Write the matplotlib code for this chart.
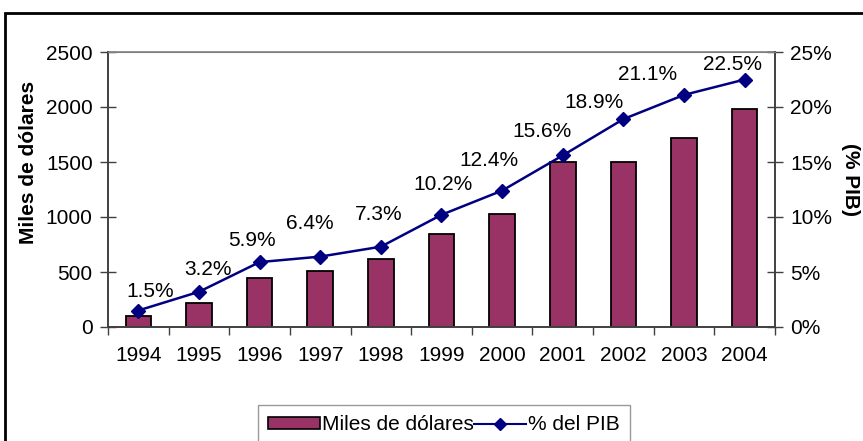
import matplotlib
matplotlib.use("Agg")
import matplotlib.pyplot as plt
from matplotlib.patches import Rectangle
from matplotlib.lines import Line2D
from matplotlib.ticker import FuncFormatter, FixedLocator
import numpy as np

plt.rcParams['font.family'] = ['Liberation Sans', 'DejaVu Sans']

years = ['1994', '1995', '1996', '1997', '1998', '1999', '2000', '2001', '2002', '2003', '2004']
miles_dolares = [100, 220, 445, 505, 620, 850, 1030, 1500, 1500, 1715, 1980]
pct_pib = [1.5, 3.2, 5.9, 6.4, 7.3, 10.2, 12.4, 15.6, 18.9, 21.1, 22.5]
pct_labels = ['1.5%', '3.2%', '5.9%', '6.4%', '7.3%', '10.2%', '12.4%', '15.6%', '18.9%', '21.1%', '22.5%']

# label placement offsets (pixels) as in the original chart
label_dx = [12, 9, -8, -10, -2, 2, -13, -21, -29, -36, -12]
label_dy = [19, 22, 22, 33, 32, 30, 30, 24, 17, 20, 15]

W, H = 863, 441
FS = 15
fig = plt.figure(figsize=(W / 100, H / 100), dpi=100)

# outer frame (partially cut by the image edge)
fig.patches.append(Rectangle((5 / W, -0.2), 1.2, (H - 13) / H + 0.2, transform=fig.transFigure,
                             fill=False, edgecolor='black', linewidth=2, clip_on=False))

ax = fig.add_axes([108 / W, 1 - 327 / H, (775 - 108) / W, (327 - 52) / H])
x = np.arange(len(years))
bar_color = '#993366'
line_color = '#000080'

ax.bar(x, miles_dolares, width=0.42, color=bar_color, edgecolor='black', linewidth=1.3, zorder=2)
ax.set_xlim(-0.5, len(years) - 0.5)
ax.set_ylim(0, 2500)
ax.set_yticks([0, 500, 1000, 1500, 2000, 2500])
ax.set_xticks(x)
ax.set_xticklabels(years)
ax.xaxis.set_minor_locator(FixedLocator(np.arange(-0.5, len(years), 1.0)))
ax.tick_params(axis='x', which='major', length=0, pad=14, labelsize=FS)
ax.tick_params(axis='x', which='minor', length=6, width=1, color='#404040', direction='out')
ax.tick_params(axis='y', length=12, width=1, direction='inout', color='#404040', labelsize=FS, pad=5)
ax.set_ylabel('Miles de dólares', fontsize=FS, fontweight='bold', va='center')
ax.yaxis.set_label_coords((28.5 - 108) / 667, (327 - 162) / 275)

for side in ['left', 'bottom', 'right']:
    ax.spines[side].set_color('#404040')
    ax.spines[side].set_linewidth(1.2)
ax.spines['top'].set_color('#808080')
ax.spines['top'].set_linewidth(1.2)

ax2 = ax.twinx()
ax2.plot(x, pct_pib, color=line_color, linewidth=1.8, marker='D', markersize=7,
         markerfacecolor=line_color, markeredgecolor=line_color, zorder=3)
ax2.set_ylim(0, 25)
ax2.set_yticks([0, 5, 10, 15, 20, 25])
ax2.yaxis.set_major_formatter(FuncFormatter(lambda v, p: f'{int(v)}%'))
ax2.tick_params(axis='y', length=12, width=1, direction='inout', color='#404040', labelsize=FS, pad=5)
ax2.set_ylabel('(% PIB)', fontsize=FS, fontweight='bold', rotation=270, va='center')
ax2.yaxis.set_label_coords((851 - 108) / 667, (327 - 179.5) / 275)
for side in ['left', 'bottom', 'right']:
    ax2.spines[side].set_color('#404040')
    ax2.spines[side].set_linewidth(1.2)
ax2.spines['top'].set_color('#808080')

for xi, yi, lab, dx, dy in zip(x, pct_pib, pct_labels, label_dx, label_dy):
    ax2.annotate(lab, (xi, yi), xytext=(dx, dy), textcoords='offset pixels',
                 ha='center', va='center', fontsize=FS, zorder=4)

handles = [Rectangle((0, 0), 1, 1, facecolor=bar_color, edgecolor='black', linewidth=1.2),
           Line2D([0], [0], color=line_color, linewidth=1.5, marker='D', markersize=6,
                  markerfacecolor=line_color, markeredgecolor=line_color)]
leg = fig.legend(handles, ['Miles de dólares', '% del PIB'], loc='upper center',
                 bbox_to_anchor=(444 / W, 1 - 405 / H), ncol=2, fontsize=FS, frameon=True,
                 fancybox=False, edgecolor='#808080', handlelength=2.5, handleheight=0.5,
                 handletextpad=0.1, columnspacing=0.0, borderpad=0.5, borderaxespad=0)
leg.get_frame().set_linewidth(1.0)

fig.savefig('out.png', dpi=100)
